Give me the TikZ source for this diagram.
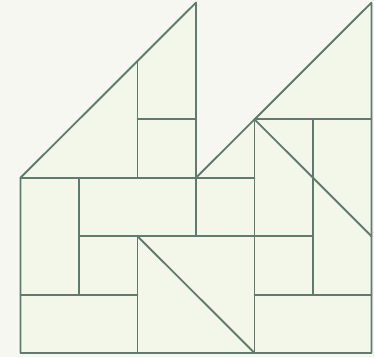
\documentclass[tikz,border=0pt]{standalone}
\definecolor{bgc}{HTML}{F7F7F1}
\definecolor{fillc}{HTML}{F3F7E9}
\definecolor{linec}{HTML}{5E7B6E}
\tikzset{piece/.style={draw=linec, line width=1.9pt, line join=round, line cap=round}}
\begin{document}
\begin{tikzpicture}[x=58.5pt,y=58.4pt]
\fill[bgc] (-20.5pt,-4pt) rectangle (353.5pt,353pt);
\useasboundingbox (-20.5pt,-4pt) rectangle (353.5pt,353pt);
% filled silhouette
\fill[fillc] (0,0) -- (6,0) -- (6,6) -- (3,3) -- (3,6) -- (0,3) -- cycle;
% outline
\draw[piece] (0,0) -- (6,0) -- (6,6) -- (3,3) -- (3,6) -- (0,3) -- cycle;
% left big triangle internals
\draw[piece] (0,3) -- (4,3);
\draw[piece] (2,3) -- (2,5);
\draw[piece] (2,4) -- (3,4);
\draw[piece] (3,3) -- (3,2);
% right triangle internals
\draw[piece] (4,4) -- (6,4);
\draw[piece] (4,0) -- (4,4);
\draw[piece] (5,1) -- (5,4);
\draw[piece] (4,4) -- (6,2);
% lower part
\draw[piece] (1,1) -- (1,3);
\draw[piece] (1,2) -- (5,2);
\draw[piece] (0,1) -- (2,1);
\draw[piece] (4,1) -- (6,1);
\draw[piece] (2,0) -- (2,2);
\draw[piece] (2,2) -- (4,0);
\end{tikzpicture}
\end{document}
